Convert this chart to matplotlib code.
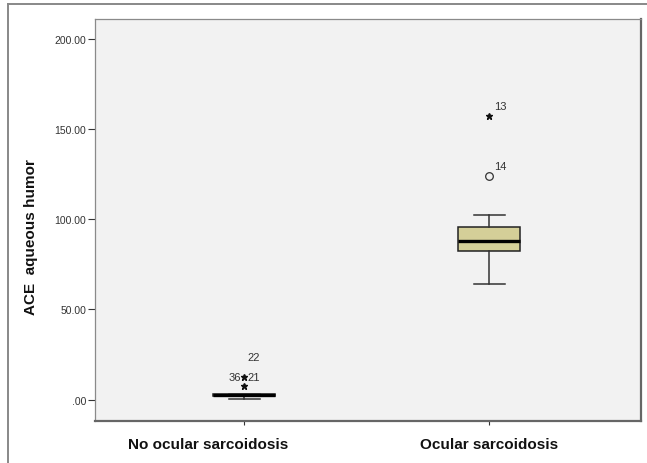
import numpy as np
import matplotlib
matplotlib.use("Agg")
import matplotlib.pyplot as plt
from matplotlib import transforms
from matplotlib.lines import Line2D

plt.rcParams['font.family'] = ['Liberation Sans', 'DejaVu Sans']

# data
categories = ["No ocular sarcoidosis", "Ocular sarcoidosis"]
q1 = [1.8, 82.2]
med = [2.4, 88.0]
q3 = [3.0, 95.8]
whis_lo = [0.5, 64.1]
whis_hi = [3.2, 102.3]

# outliers
out_group = [1, 1, 2, 2]
out_value = [7.4, 12.5, 124.0, 157.3]
out_kind = ["star", "star", "circle", "star"]

yticks = [0, 50, 100, 150, 200]
yticklabels = [".00", "50.00", "100.00", "150.00", "200.00"]

fig = plt.figure(figsize=(6.47, 4.64), dpi=100)
ax = fig.add_axes([95/647, 42.3/464, 546/647, 402.2/464])
ax.set_facecolor("#f2f2f2")

stats = []
for i in range(len(categories)):
    stats.append(dict(med=med[i], q1=q1[i], q3=q3[i],
                      whislo=whis_lo[i], whishi=whis_hi[i], fliers=[]))

ax.bxp(stats, positions=[1, 2], widths=0.253, showfliers=False,
       patch_artist=True,
       boxprops=dict(facecolor="#d4cf98", edgecolor="#222222", linewidth=1.1),
       medianprops=dict(color="black", linewidth=2.4),
       whiskerprops=dict(color="#333333", linewidth=1.1),
       capprops=dict(color="#333333", linewidth=1.1),
       capwidths=0.127)

for g, v, k in zip(out_group, out_value, out_kind):
    if k == "star":
        ax.plot(g, v, marker="*", color="#111111", markersize=5, linestyle="none")
    else:
        ax.plot(g, v, marker="o", markerfacecolor="none", markeredgecolor="#333333",
                markersize=5.5, markeredgewidth=0.9, linestyle="none")

lab_kw = dict(fontsize=8, color="#333333", textcoords="offset points")
ax.annotate("13", (2, 157.3), xytext=(3.5, 7), ha="left", va="center", **lab_kw)
ax.annotate("14", (2, 124.0), xytext=(3.5, 7), ha="left", va="center", **lab_kw)
ax.annotate("36", (1, 12.5), xytext=(-2.5, 0), ha="right", va="center", **lab_kw)
ax.annotate("21", (1, 12.5), xytext=(2, 0), ha="left", va="center", **lab_kw)
ax.annotate("22", (1, 23.6), xytext=(2, 0), ha="left", va="center", **lab_kw)

ax.set_xlim(0.39, 2.62)
ax.set_ylim(-11.6, 211.1)
ax.set_yticks(yticks)
ax.set_yticklabels(yticklabels, fontsize=7.5, color="#333333")
ax.set_xticks([1, 2])
ax.set_xticklabels(categories, fontsize=11, fontweight="bold", color="#111111")
ax.tick_params(axis="y", length=5, width=0.8, color="#333333", pad=1.5)
ax.tick_params(axis="x", length=3, width=0.8, color="#333333", pad=9)

# first category label sits a bit left of its tick in the reference
lbl = ax.get_xticklabels()[0]
lbl.set_transform(lbl.get_transform() + transforms.ScaledTranslation(-36/100, 0, fig.dpi_scale_trans))

for s in ["left", "top"]:
    ax.spines[s].set_color("#8a8a8a")
    ax.spines[s].set_linewidth(0.9)
for s in ["right", "bottom"]:
    ax.spines[s].set_color("#666666")
    ax.spines[s].set_linewidth(1.6)

fig.text(31/647, 1 - 237/464, "ACE  aqueous humor", rotation=90, ha="center", va="center",
         fontsize=11, fontweight="bold", color="#111111")

# outer frame lines (top and left)
fig.add_artist(Line2D([8/647, 1], [1 - 5/464, 1 - 5/464], transform=fig.transFigure,
                      color="#888888", linewidth=1.4))
fig.add_artist(Line2D([8/647, 8/647], [0, 1 - 5/464], transform=fig.transFigure,
                      color="#888888", linewidth=1.4))

fig.savefig("out.png", dpi=100)
